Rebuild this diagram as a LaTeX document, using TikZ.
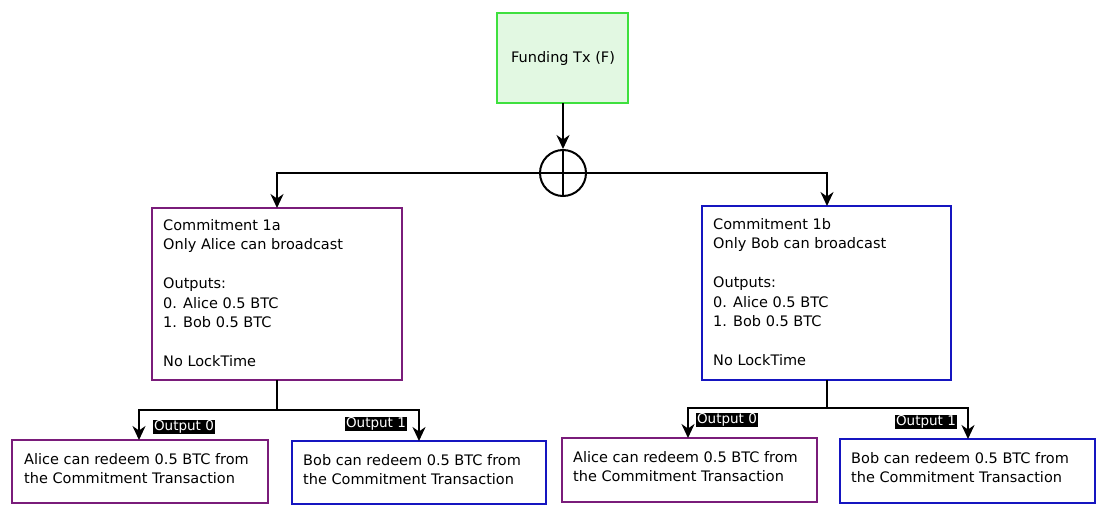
\documentclass[tikz,border=0pt]{standalone}
\usepackage{fontspec}
\setmainfont{DejaVu Sans}
\usetikzlibrary{arrows.meta}
\definecolor{pur}{HTML}{7A1C7A}
\definecolor{blu}{HTML}{1515C0}
\definecolor{grn}{HTML}{3EE03E}
\definecolor{lgrn}{HTML}{E2F8E2}
\begin{document}
\begin{tikzpicture}[x=1pt,y=-1pt,
  box/.style={draw,line width=2pt,inner sep=0pt},
  txt/.style={anchor=north west,align=left,font=\fontsize{14.5}{19.5}\selectfont,inner sep=0pt},
  btxt/.style={anchor=north west,align=left,font=\fontsize{14.5}{19}\selectfont,inner sep=0pt},
  con/.style={line width=2.4pt},
  arr/.style={line width=2.4pt,-{Stealth[length=14pt,width=13pt]}},
  lab/.style={fill=black,text=white,font=\fontsize{13.5}{13.5}\selectfont,inner sep=1pt}]
\useasboundingbox (0,0) rectangle (1106,514);
% Funding
\draw[box,draw=grn,fill=lgrn] (497,13) rectangle (628,103);
\node (F) at (563,58) {\fontsize{14.5}{16}\selectfont Funding Tx (F)};
\coordinate (Fb) at (563,103);
\node[draw,circle,line width=2pt,minimum size=46pt,inner sep=0pt] (X) at (563,173) {};
\draw[arr] (Fb) -- (X.north);
\draw[con] (X.north) -- (X.south);
\draw[con] (X.west) -- (X.east);
% commitment boxes
\draw[box,draw=pur] (152,208) rectangle (402,380);
\draw[box,draw=blu] (702,206) rectangle (951,380);
\coordinate (A) at (277,208); \coordinate (B) at (827,206);
\coordinate (Ab) at (277,380); \coordinate (Bb) at (827,380);
\draw[arr] (X.west) -- (277,173) -- (A);
\draw[arr] (X.east) -- (827,173) -- (B);
\node[txt] (t1) at (163,219) {Commitment 1a\\Only Alice can broadcast\\[19.5pt]Outputs:\\0. Alice 0.5 BTC\\1. Bob 0.5 BTC\\[19.5pt]No LockTime};
\node[txt] (t2) at (713,218) {Commitment 1b\\Only Bob can broadcast\\[19.5pt]Outputs:\\0. Alice 0.5 BTC\\1. Bob 0.5 BTC\\[19.5pt]No LockTime};
% bottom boxes
\draw[box,draw=pur] (12,440) rectangle (268,503);
\draw[box,draw=blu] (292,441) rectangle (546,504);
\draw[box,draw=pur] (562,438) rectangle (817,502);
\draw[box,draw=blu] (840,439) rectangle (1095,503);
\node[btxt] (b1) at (24,453) {Alice can redeem 0.5 BTC from\\the Commitment Transaction};
\node[btxt] (b2) at (303,454) {Bob can redeem 0.5 BTC from\\the Commitment Transaction};
\node[btxt] (b3) at (573,451) {Alice can redeem 0.5 BTC from\\the Commitment Transaction};
\node[btxt] (b4) at (851,452) {Bob can redeem 0.5 BTC from\\the Commitment Transaction};
\coordinate (J1) at (277,410); \coordinate (J2) at (827,408);
\draw[con] (Ab) -- (J1); \draw[con] (Bb) -- (J2);
\draw[arr] (J1) -- (139,410) -- (139,440);
\draw[arr] (J1) -- (419,410) -- (419,441);
\draw[arr] (J2) -- (688,408) -- (688,438);
\draw[arr] (J2) -- (968,408) -- (968,439);
\node[lab] (o1) at (184,427) {Output 0};
\node[lab] (o2) at (376,424) {Output 1};
\node[lab] (o3) at (727,420) {Output 0};
\node[lab] (o4) at (926,422) {Output 1};
\end{tikzpicture}
\end{document}
